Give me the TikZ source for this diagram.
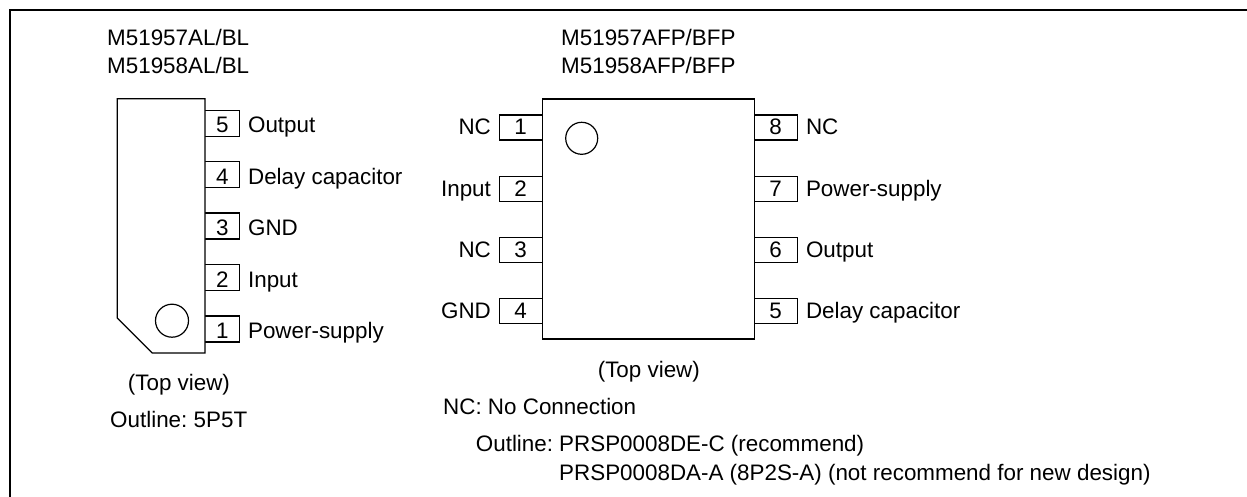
\documentclass[tikz,border=0pt]{standalone}
\usepackage{fontspec}
\setmainfont{Liberation Sans}
\usetikzlibrary{positioning}
\tikzset{
    ic-body/.style = {draw, line width=1.2pt, rectangle, inner sep=0pt, minimum width=212pt, minimum height=240pt},
    ic-mark/.style = {draw, line width=1.2pt, circle, inner sep=0pt},
    pin-box/.style = {draw, line width=1.2pt, rectangle, inner sep=0pt, text height=19pt, text depth=0pt, font=\fontsize{22.4}{26}\selectfont},
    pin-left/.style = {pin-box, text height=15pt, minimum width=43pt, minimum height=25pt},
    pin-small/.style = {pin-box, minimum width=35pt, minimum height=26pt},
    pin-name/.style = {inner sep=0pt, text height=19pt, text depth=0pt, font=\fontsize{22.4}{26}\selectfont},
    pin-name-flat/.style = {pin-name, text height=15pt},
    note-text/.style = {anchor=base west, inner sep=0pt, font=\fontsize{22.4}{26}\selectfont},
}
\begin{document}
\begin{tikzpicture}[x=1pt,y=-1pt]
\useasboundingbox (0,0) rectangle (1247,497);
\draw [line width=2pt] (9.5,497) -- (9.5,10) -- (1247,10);

\node[note-text] (sil-name-a) at (107,45.7) {M51957AL/BL};
\node[note-text] (sil-name-b) at (107,74) {M51958AL/BL};

% single in line package
\node[pin-small] (sil-5) at (222.3,123.2) {5};
\node[pin-small] (sil-4) at (222.3,174.8) {4};
\node[pin-small] (sil-3) at (222.3,226) {3};
\node[pin-small] (sil-2) at (222.3,277.7) {2};
\node[pin-small] (sil-1) at (222.3,329) {1};
\draw [line width=1.2pt, fill=white] (117.3,98.7) -- (205,98.7) -- (205,353) -- (152.3,353) -- (117.3,318) -- cycle;
\node[ic-mark, minimum size=33pt] (sil-mark) at (172,320.7) {};
\node[pin-name, right=7.5pt of sil-5.east, anchor=west] (sil-label-5) {Output};
\node[pin-name, right=7.5pt of sil-4.east, anchor=west] (sil-label-4) {Delay capacitor};
\node[pin-name, right=7.5pt of sil-3.east, anchor=west] (sil-label-3) {GND};
\node[pin-name, right=7.5pt of sil-2.east, anchor=west] (sil-label-2) {Input};
\node[pin-name, right=7.5pt of sil-1.east, anchor=west] (sil-label-1) {Power-supply};
\node[note-text] (sil-view) at (127.7,390.7) {(Top view)};
\node[note-text] (sil-outline) at (110,427.7) {Outline:\hspace{-2pt} 5P5T};

\node[note-text] (sop-name-a) at (561,45.7) {M51957AFP/BFP};
\node[note-text] (sop-name-b) at (561,74) {M51958AFP/BFP};

% flat package
\node[pin-left] (sop-1) at (520.7,127.5) {1};
\node[pin-left] (sop-2) at (520.7,188.7) {2};
\node[pin-left] (sop-3) at (520.7,249.8) {3};
\node[pin-left] (sop-4) at (520.7,310.8) {4};
\node[pin-left] (sop-8) at (775.7,127.5) {8};
\node[pin-left] (sop-7) at (775.7,188.7) {7};
\node[pin-left] (sop-6) at (775.7,249.8) {6};
\node[pin-left] (sop-5) at (775.7,310.8) {5};
\node[ic-body, fill=white] (sop-body) at (648.3,219) {};
\node[ic-mark, minimum size=32pt] (sop-mark) at (581.7,138.3) {};
\node[pin-name-flat, left=7.5pt of sop-1.west, anchor=east] (sop-label-1) {NC};
\node[pin-name-flat, left=7.5pt of sop-2.west, anchor=east] (sop-label-2) {Input};
\node[pin-name-flat, left=7.5pt of sop-3.west, anchor=east] (sop-label-3) {NC};
\node[pin-name-flat, left=7.5pt of sop-4.west, anchor=east] (sop-label-4) {GND};
\node[pin-name-flat, right=8pt of sop-8.east, anchor=west] (sop-label-8) {NC};
\node[pin-name-flat, right=8pt of sop-7.east, anchor=west] (sop-label-7) {Power-supply};
\node[pin-name-flat, right=8pt of sop-6.east, anchor=west] (sop-label-6) {Output};
\node[pin-name-flat, right=8pt of sop-5.east, anchor=west] (sop-label-5) {Delay capacitor};
\node[note-text] (sop-view) at (597.6,377) {(Top view)};
\node[note-text] (sop-note) at (443,414.3) {NC: No Connection};
\node[note-text] (sop-outline) at (475.7,451.7) {Outline:};
\node[note-text] (sop-code-a) at (559,451.7) {PRSP0008DE-C (recommend)};
\node[note-text] (sop-code-b) at (559,480) {PRSP0008DA-A (8P2S-A) (not recommend for new design)};
\end{tikzpicture}
\end{document}
